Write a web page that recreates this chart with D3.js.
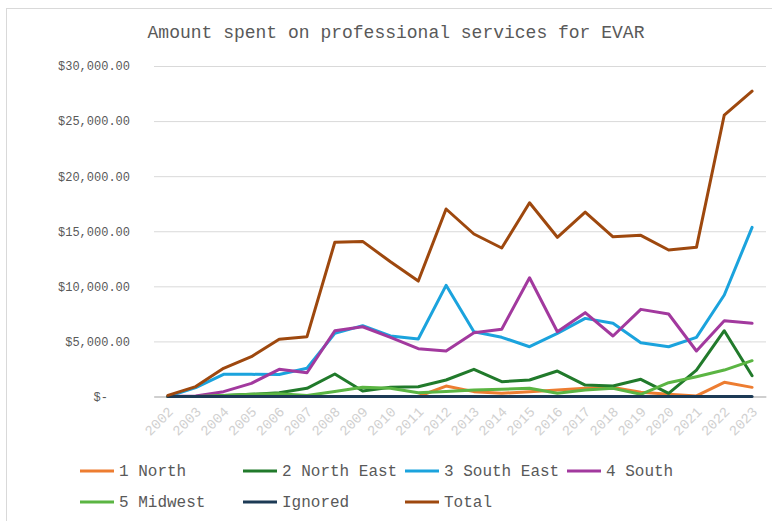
<!DOCTYPE html>
<html>
<head>
<meta charset="utf-8">
<script src="https://cdn.jsdelivr.net/npm/d3@7"></script>
<style>
  html, body { margin: 0; padding: 0; background: #fff; }
  svg { display: block; }
  text { font-family: "Liberation Mono", "DejaVu Sans Mono", monospace; }
</style>
</head>
<body>
<svg id="chart" width="772" height="521"></svg>
<script>
const years = ["2002","2003","2004","2005","2006","2007","2008","2009","2010","2011","2012","2013","2014","2015","2016","2017","2018","2019","2020","2021","2022","2023"];
const north     = [0,0,0,0,50,0,0,0,0,0,950,440,290,440,590,740,830,390,200,50,1290,830];
const northEast = [0,0,100,200,350,740,2040,500,830,890,1500,2470,1340,1500,2310,1040,950,1560,290,2400,5970,1890];
const southEast = [0,800,2010,2010,2000,2560,5730,6430,5490,5220,10090,5880,5370,4520,5730,7090,6640,4880,4520,5370,9210,15350];
const south     = [0,50,440,1190,2470,2160,5970,6330,5370,4340,4130,5790,6100,10780,5880,7610,5490,7910,7490,4130,6880,6640];
const midwest   = [0,0,100,200,250,100,450,830,740,350,450,590,650,740,290,590,740,200,1250,1800,2400,3250];
const ignored   = [0,0,0,0,0,0,0,0,0,0,0,0,0,0,0,0,0,0,0,0,0,0];
const total     = [100,900,2560,3610,5190,5430,14000,14080,12230,10480,17020,14750,13480,17590,14450,16740,14500,14630,13300,13540,25550,27720];
const seriesNames = ["1 North","2 North East","3 South East","4 South","5 Midwest","Ignored","Total"];
const seriesColors = ["#ED7D31","#217A2B","#1BA3DD","#A2399E","#5BB543","#1C3A55","#9E480E"];
const yTicks = [0,5000,10000,15000,20000,25000,30000];
const title = "Amount spent on professional services for EVAR";

const seriesValues = [north, northEast, southEast, south, midwest, ignored, total];
const svg = d3.select("#chart");

// chart frame
svg.append("rect").attr("x",6.5).attr("y",8.5).attr("width",800).attr("height",600)
  .attr("fill","none").attr("stroke","#d9d9d9").attr("stroke-width",1);

svg.append("text").attr("x",396).attr("y",38).attr("text-anchor","middle")
  .attr("font-size","18px").attr("fill","#595959").text(title);

const x = d3.scaleBand().domain(years).range([154, 766]).padding(0);
const xc = d => x(d) + x.bandwidth()/2;
const y = d3.scaleLinear().domain([0,30000]).range([396.5, 66]);

// gridlines
const fmt = v => v === 0 ? "$-" : "$" + d3.format(",.2f")(v);
const yAxis = d3.axisLeft(y).tickValues(yTicks).tickSize(-(766-154)).tickFormat(fmt);
const gy = svg.append("g").attr("transform","translate(154,0)").call(yAxis);
gy.select(".domain").remove();
gy.selectAll(".tick line").attr("stroke","#d9d9d9").attr("stroke-width",1);
gy.selectAll(".tick text").attr("font-size","12px").attr("fill","#595959")
  .attr("font-family","Liberation Mono, monospace")
  .attr("x", d => d === 0 ? -46 : -24);
gy.selectAll(".tick").filter(d => d === 0).select("line").attr("stroke","#bfbfbf");

// x axis labels
const xAxis = d3.axisBottom(x).tickSize(0).tickFormat(d => d);
const gx = svg.append("g").attr("transform","translate(0,396.5)").call(xAxis);
gx.select(".domain").attr("stroke","#bfbfbf");
gx.selectAll(".tick text")
  .attr("font-size","14px").attr("fill","#d0d0d0")
  .attr("font-family","Liberation Mono, monospace")
  .attr("text-anchor","end")
  .attr("dy",null)
  .attr("transform","translate(4,14) rotate(-45)");

// lines
const line = d3.line().x((d,i) => xc(years[i])).y(d => y(d));
seriesValues.forEach((vals, k) => {
  svg.append("path").datum(vals)
    .attr("fill","none").attr("stroke",seriesColors[k])
    .attr("stroke-width",3).attr("stroke-linejoin","round").attr("stroke-linecap","round")
    .attr("d", line);
});

// legend
const legPos = [[80,471],[243,471],[405,471],[567,471],[80,502],[243,502],[405,502]];
seriesNames.forEach((name,k) => {
  const [lx,ly] = legPos[k];
  const g = svg.append("g");
  g.append("line").attr("x1",lx).attr("x2",lx+34).attr("y1",ly).attr("y2",ly)
    .attr("stroke",seriesColors[k]).attr("stroke-width",3);
  g.append("text").attr("x",lx+39).attr("y",ly+5).attr("font-size","16px")
    .attr("fill","#595959").text(name);
});
</script>
</body>
</html>
